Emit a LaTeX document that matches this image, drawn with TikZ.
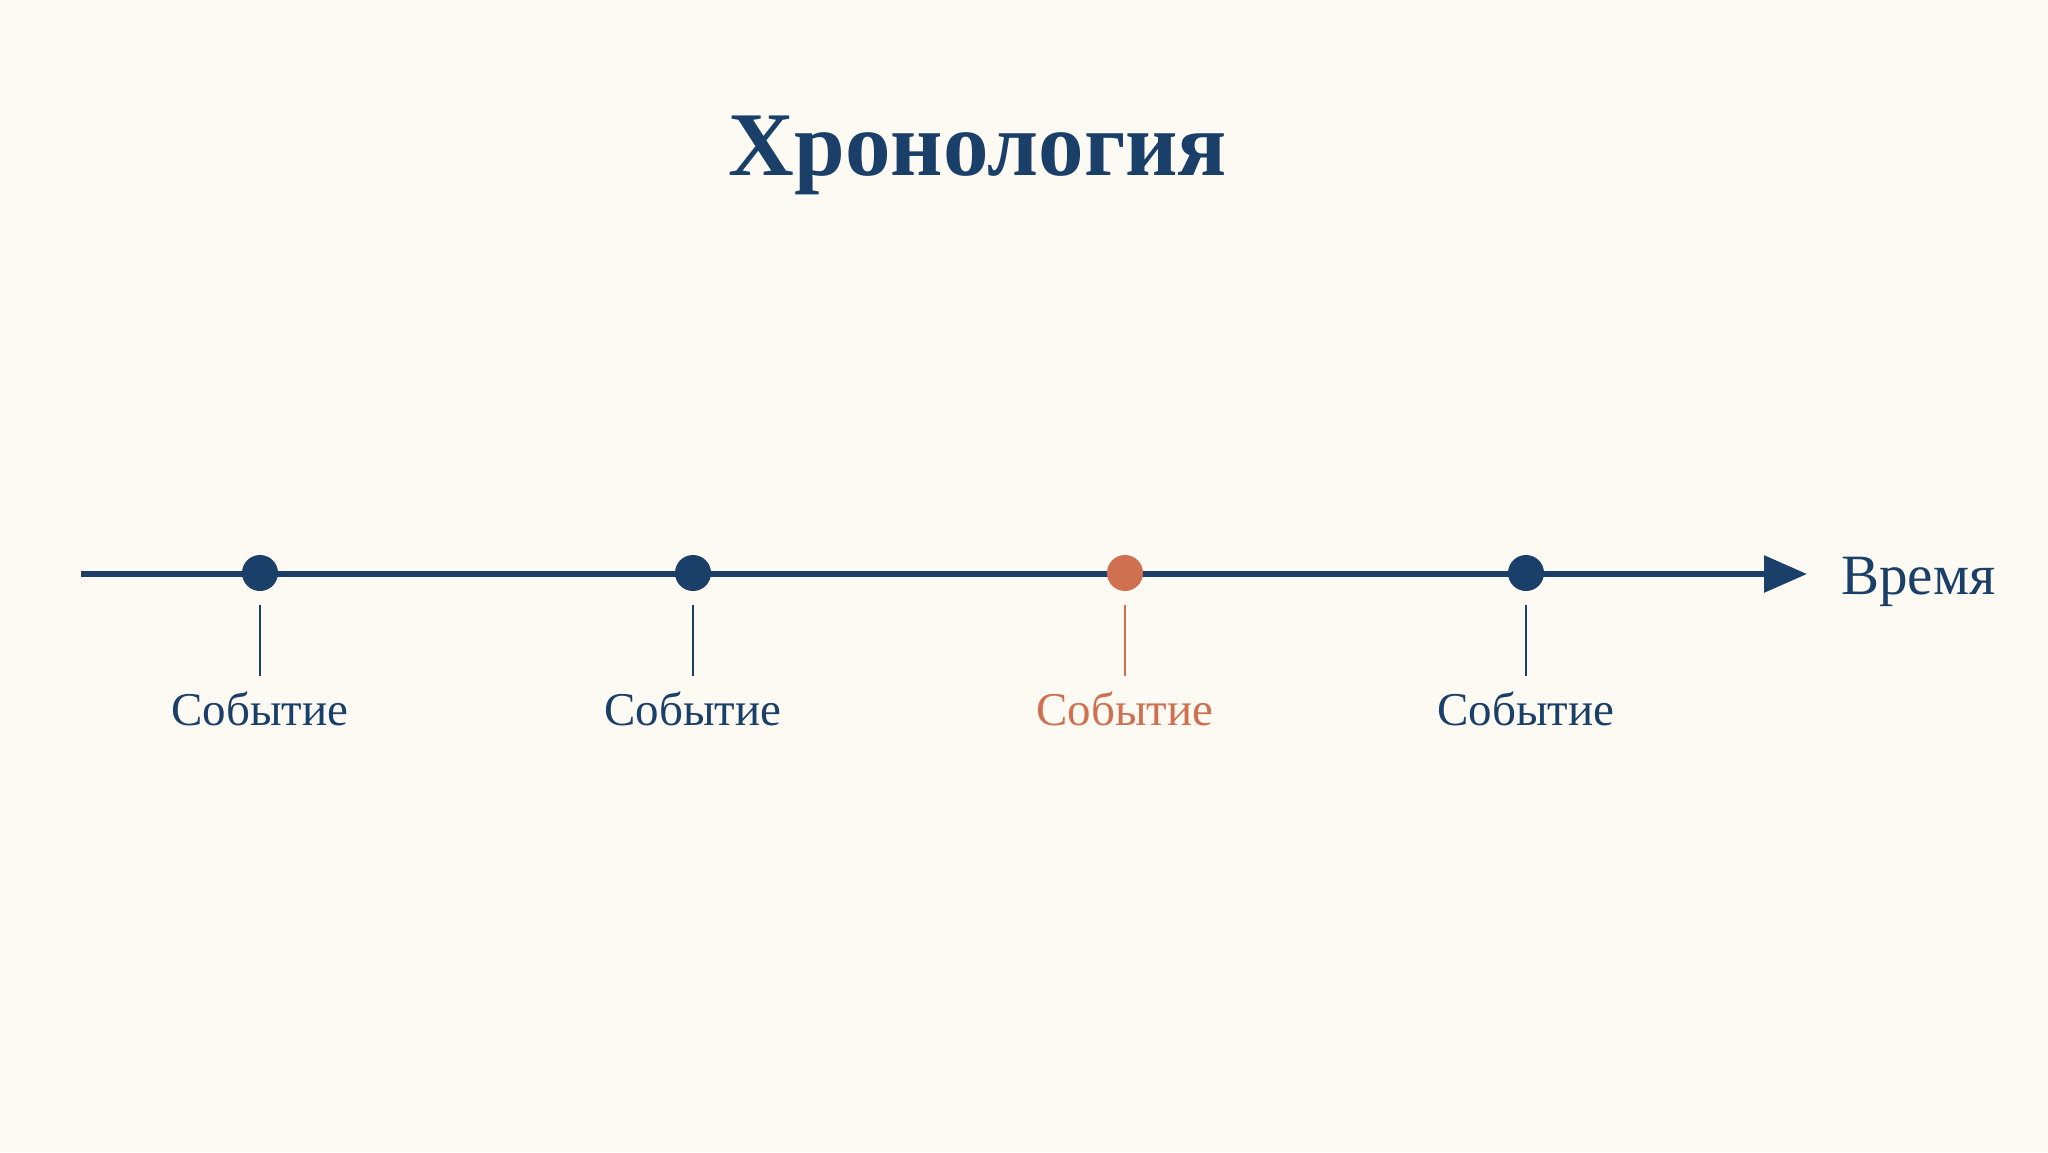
\documentclass[tikz,border=0pt]{standalone}
\usepackage{fontspec}
\setmainfont{Liberation Serif}
\usetikzlibrary{arrows.meta}
\definecolor{navy}{HTML}{1A3F68}
\definecolor{accent}{HTML}{CF7150}
\definecolor{bg}{HTML}{FDF9F3}
\begin{document}
\begin{tikzpicture}[x=1pt,y=-1pt,
  evdot/.style={circle,fill=#1,inner sep=0pt,minimum size=36pt},
  evtick/.style={draw=#1,line width=2pt},
  evlabel/.style={text=#1,anchor=base,inner sep=0pt,font=\fontsize{47}{52}\selectfont},
  axis/.style={draw=navy,line width=6pt,-{Triangle[length=43pt,width=36pt]}}]
\fill[bg] (0,0) rectangle (2048,1152);
\useasboundingbox (0,0) rectangle (2048,1152);
\node[anchor=base,text=navy,inner sep=0pt,font=\bfseries\fontsize{91}{100}\selectfont] (title) at (978,175) {Хронология};
\coordinate (start) at (81,574);
\coordinate (end) at (1807,574);
\draw[axis] (start) -- (end);
\node[anchor=base west,text=navy,inner sep=0pt,font=\fontsize{57}{64}\selectfont] (time) at (1841,594) {Время};
\foreach \x/\c/\n in {260/navy/a,693/navy/b,1125/accent/c,1526/navy/d}{
  \node[evdot=\c] (dot\n) at (\x,573) {};
  \coordinate (t\n1) at (\x,605);
  \coordinate (t\n2) at (\x,676);
  \draw[evtick=\c] (t\n1) -- (t\n2);
  \node[evlabel=\c] (lab\n) at (\x,725) {Событие};
}
\end{tikzpicture}
\end{document}
